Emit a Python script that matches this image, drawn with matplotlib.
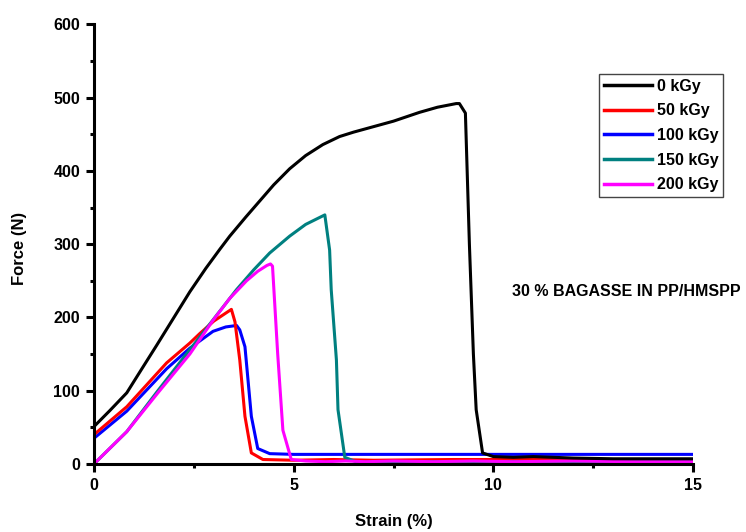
import matplotlib
matplotlib.use("Agg")
import matplotlib.pyplot as plt
from matplotlib.ticker import MultipleLocator

plt.rcParams['font.family'] = ['Liberation Sans', 'DejaVu Sans']
plt.rcParams['font.weight'] = 'bold'

# Strain (%) and force (N)
x_0 = [0, 0.4, 0.82, 1.2, 1.57, 2.15, 2.4, 2.8, 3.15, 3.4, 3.8, 4.15, 4.5, 4.9, 5.3, 5.73, 6.15,
       6.5, 6.9, 7.5, 8.15, 8.6, 9.07, 9.15, 9.3, 9.4, 9.5, 9.57, 9.73, 10.0, 10.5, 11.0, 12.0,
       13.0, 14.0, 15.0]
f_0 = [51, 73, 97, 130, 162, 213, 235, 267, 293, 311, 337, 359, 381, 403, 421, 436, 447,
       453, 459, 468, 480, 487, 492, 492, 479, 300, 150, 74, 15, 10, 9, 10, 8,
       7, 7, 7]

x_50 = [0, 0.82, 1.82, 2.4, 2.65, 3.0, 3.44, 3.53, 3.65, 3.78, 3.94, 4.23, 5.0, 6.0, 7.0, 9.0,
        11.0, 13.0, 15.0]
f_50 = [40, 78, 138, 165, 178, 195, 211, 194, 142, 65, 15, 6, 5, 6, 5, 6, 6, 6, 6]

x_100 = [0, 0.82, 1.82, 2.4, 2.98, 3.3, 3.57, 3.65, 3.78, 3.94, 4.1, 4.4, 5.0, 7.0, 9.0, 11.0,
         13.0, 15.0]
f_100 = [35, 72, 130, 158, 181, 187, 189, 183, 160, 65, 21, 14, 13, 13, 13, 13, 13, 13]

x_150 = [0, 0.82, 1.6, 2.4, 3.0, 3.57, 4.0, 4.4, 4.9, 5.3, 5.78, 5.9, 5.94, 6.07, 6.11,
         6.28, 6.6, 8.0, 15.0]
f_150 = [0, 44, 100, 156, 198, 238, 265, 288, 311, 327, 340, 292, 238, 142, 74, 9, 2, 3, 3]

x_200 = [0, 0.82, 1.6, 2.4, 2.98, 3.4, 3.82, 4.1, 4.33, 4.42, 4.47, 4.6, 4.73, 4.94, 5.3, 5.8,
         6.3, 6.8, 7.5, 8.5, 9.5, 10.5, 12.0, 13.5, 15.0]
f_200 = [0, 44, 97, 150, 196, 226, 250, 263, 271, 273, 270, 150, 46, 6, 4, 3,
         4, 3, 4, 3, 4, 3, 4, 3, 3]

labels = ['0 kGy', '50 kGy', '100 kGy', '150 kGy', '200 kGy']
colors = ['black', 'red', 'blue', '#008080', 'magenta']
zorders = [6, 4, 3, 4, 5]

fig = plt.figure(figsize=(7.46, 5.32), dpi=100)
ax = fig.add_axes([0.126, 0.128, 0.803, 0.826])

series = [(x_0, f_0), (x_50, f_50), (x_100, f_100), (x_150, f_150), (x_200, f_200)]
for (xs, fs), lab, col, z in zip(series, labels, colors, zorders):
    ax.plot(xs, fs, color=col, lw=2.2, label=lab, zorder=z)

ax.set_xlim(0, 15)
ax.set_ylim(0, 600)
ax.xaxis.set_major_locator(MultipleLocator(5))
ax.xaxis.set_minor_locator(MultipleLocator(2.5))
ax.yaxis.set_major_locator(MultipleLocator(100))
ax.yaxis.set_minor_locator(MultipleLocator(50))

for s in ['top', 'right']:
    ax.spines[s].set_visible(False)
for s in ['left', 'bottom']:
    ax.spines[s].set_linewidth(2.2)
    ax.spines[s].set_zorder(7)

ax.tick_params(which='major', direction='out', length=6, width=2.2, labelsize=11.5, pad=4)
ax.tick_params(which='minor', direction='out', length=3, width=2.2)

ax.set_xlabel('Strain (%)', fontsize=12, fontweight='bold', va='center')
ax.set_ylabel('Force (N)', fontsize=12, fontweight='bold', va='center')
ax.xaxis.set_label_coords(0.5, (464 - 522) / 439.3)
ax.yaxis.set_label_coords((20 - 94) / 599, 0.49)

leg = ax.legend(loc='upper right', bbox_to_anchor=(723 / 746, 1 - 74 / 532),
                bbox_transform=fig.transFigure, fontsize=11.5, handlelength=3.0,
                labelspacing=0.6, borderpad=0.3, handletextpad=0.3,
                fancybox=False, framealpha=1, borderaxespad=0)
leg.get_frame().set_edgecolor('#444444')
leg.get_frame().set_linewidth(1.0)
for line in leg.get_lines():
    line.set_linewidth(2.5)

fig.text(512 / 746, 1 - 292 / 532, '30 % BAGASSE IN PP/HMSPP', fontsize=11.5,
         fontweight='bold', ha='left', va='center')

fig.savefig('out.png', dpi=100)
